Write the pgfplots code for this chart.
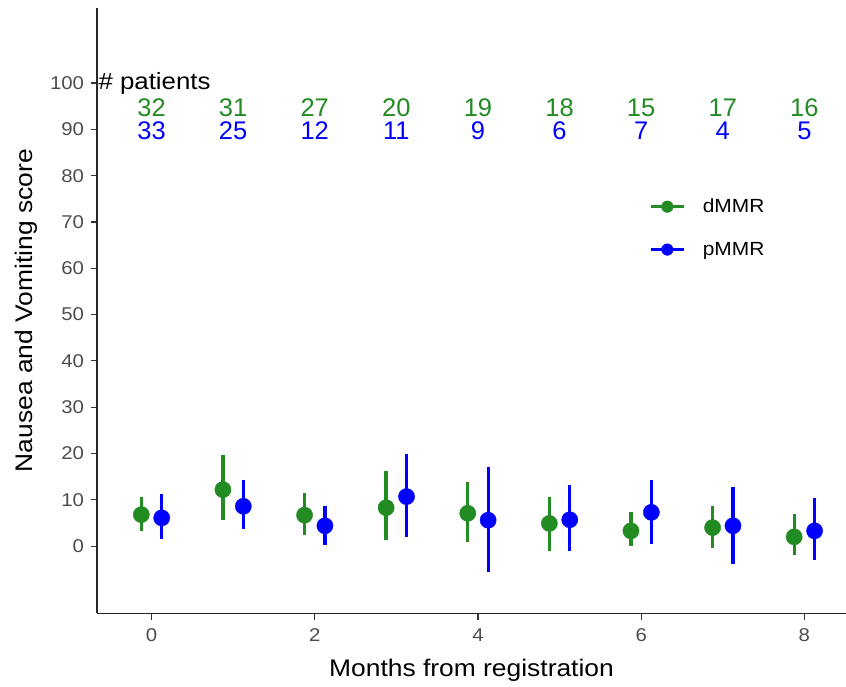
\documentclass[border=0pt]{standalone}
\usepackage{pgfplots}
\pgfplotsset{compat=1.18}
\usepackage{fontspec}
\setmainfont[FakeStretch=1.1]{Liberation Sans}
\newfontfamily\cntfont{Liberation Sans}
\definecolor{dgreen}{HTML}{228B22}
\definecolor{dblue}{HTML}{0000FF}
\definecolor{tickgray}{HTML}{4D4D4D}
\begin{document}
\begin{tikzpicture}[x=1pt,y=1pt]
\path[use as bounding box] (0,0) rectangle (846,687);
\begin{axis}[
  at={(97pt,73.7pt)}, anchor=south west,
  width=749pt, height=605.3pt, scale only axis,
  xmin=-0.668, xmax=8.51, ymin=-14.5, ymax=116.2,
  axis x line*=bottom, axis y line*=left,
  axis line style={black!85, line width=1.4pt, -},
  xtick={0,2,4,6,8}, ytick={0,10,...,100},
  tick align=outside, major tick length=6.5pt,
  tick style={black!80, line width=1.1pt},
  ticklabel style={font=\fontsize{18.5}{18.5}\selectfont, text=tickgray},
  yticklabel style={xshift=-3pt},
  xticklabel style={yshift=-5pt},
  /pgf/number format/assume math mode=true,
  xlabel={Months from registration},
  ylabel={Nausea and Vomiting score},
  label style={font=\fontsize{24}{24}\selectfont},
  xlabel style={at={(axis description cs:0.5,-0.104)}, anchor=base},
  ylabel style={at={(axis description cs:-0.0855,0.5)}, anchor=base},
  legend style={at={(axis description cs:0.737,0.688)}, anchor=north west,
    draw=none, fill=none, inner sep=0pt,
    font=\fontsize{19}{19}\selectfont, row sep=24pt,
    cells={anchor=west}},
  legend image code/.code={
    \draw[line width=3.2pt] (0pt,0pt) -- (33pt,0pt);
    \fill (16.5pt,0pt) circle (5.8pt);
    \path[draw=none, fill=none] (0pt,0pt) -- (50pt,0pt);
  },
  clip=false,
]
% dMMR
\addplot[dgreen, only marks, mark=*, mark size=8.1pt,
  mark options={fill=dgreen, draw=dgreen},
  error bars/.cd, y dir=both, y explicit,
  error bar style={line width=3.3pt, dgreen}, error mark=none]
coordinates {
 (-0.125,6.8)  += (0,3.9) -= (0,3.6)
 (0.875,12.2)  += (0,7.5) -= (0,6.5)
 (1.875,6.7)   += (0,4.8) -= (0,4.3)
 (2.875,8.3)   += (0,7.9) -= (0,7.0)
 (3.875,7.1)   += (0,6.7) -= (0,6.3)
 (4.875,4.9)   += (0,5.8) -= (0,6.0)
 (5.875,3.3)   += (0,4.0) -= (0,3.3)
 (6.875,4.0)   += (0,4.7) -= (0,4.3)
 (7.875,2.0)   += (0,4.9) -= (0,3.9)
};
\addlegendentry{dMMR}
% pMMR
\addplot[dblue, only marks, mark=*, mark size=8.1pt,
  mark options={fill=dblue, draw=dblue},
  error bars/.cd, y dir=both, y explicit,
  error bar style={line width=3.3pt, dblue}, error mark=none]
coordinates {
 (0.125,6.1)   += (0,5.1) -= (0,4.5)
 (1.125,8.6)   += (0,5.6) -= (0,5.0)
 (2.125,4.4)   += (0,4.3) -= (0,4.25)
 (3.125,10.7)  += (0,9.3) -= (0,8.8)
 (4.125,5.6)   += (0,11.4) -= (0,11.1)
 (5.125,5.7)   += (0,7.4) -= (0,6.8)
 (6.125,7.3)   += (0,7.0) -= (0,6.9)
 (7.125,4.4)   += (0,8.3) -= (0,8.3)
 (8.125,3.3)   += (0,7.0) -= (0,6.2)
};
\addlegendentry{pMMR}
% patient counts
\addplot[forget plot, draw=none, mark=none, nodes near coords,
  point meta=explicit symbolic,
  every node near coord/.style={anchor=base, text=dgreen, font=\cntfont\fontsize{25.5}{25.5}\selectfont, inner sep=0pt}]
coordinates {
 (0,92.7)[32] (1,92.7)[31] (2,92.7)[27] (3,92.7)[20] (4,92.7)[19]
 (5,92.7)[18] (6,92.7)[15] (7,92.7)[17] (8,92.7)[16]
};
\addplot[forget plot, draw=none, mark=none, nodes near coords,
  point meta=explicit symbolic,
  every node near coord/.style={anchor=base, text=dblue, font=\cntfont\fontsize{25.5}{25.5}\selectfont, inner sep=0pt}]
coordinates {
 (0,87.7)[33] (1,87.7)[25] (2,87.7)[12] (3,87.7)[11] (4,87.7)[9]
 (5,87.7)[6] (6,87.7)[7] (7,87.7)[4] (8,87.7)[5]
};
\addplot[forget plot, draw=none, mark=none, nodes near coords,
  point meta=explicit symbolic,
  every node near coord/.style={anchor=base west, text=black, font=\fontsize{23.5}{23.5}\selectfont, inner sep=0pt}]
coordinates {(-0.652,98.5)[\# patients]};
\end{axis}
\end{tikzpicture}
\end{document}
